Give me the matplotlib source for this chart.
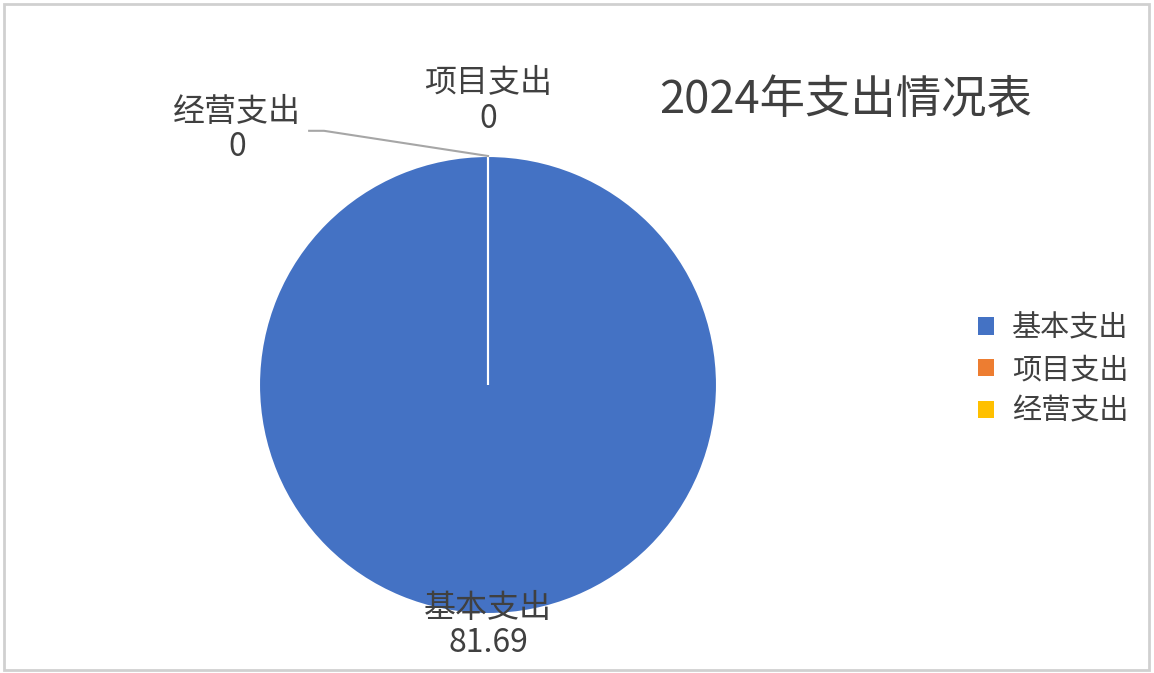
import numpy as np
import matplotlib.pyplot as plt
from matplotlib.patches import Patch, Rectangle

plt.rcParams['font.family'] = ['Noto Sans CJK SC', 'DejaVu Sans']

# data
categories = ["基本支出", "项目支出", "经营支出"]
values = [81.69, 0, 0]
value_labels = ["81.69", "0", "0"]
colors = ["#4472C4", "#ED7D31", "#FFC000"]
title = "2024年支出情况表"

text_color = "#404040"
W, H = 1154, 673

fig = plt.figure(figsize=(W / 100, H / 100), dpi=100)

# pie axes: center (488, 385) px, radius 229 px
cx, cy, r = 488, 385, 229
ax = fig.add_axes([(cx - r) / W, (H - cy - r) / H, 2 * r / W, 2 * r / H])
wedges, _ = ax.pie(values, colors=colors, startangle=90, counterclock=False,
                   radius=1, wedgeprops=dict(edgecolor="white", linewidth=1.5))
ax.set_xlim(-1, 1)
ax.set_ylim(-1, 1)
ax.set_aspect("equal")
ax.axis("off")

# data labels (positions in pie radius units)
label_pos = [(0.0, -1.05), (0.0, 1.24), (-1.096, 1.115)]
for name, val, (lx, ly) in zip(categories, value_labels, label_pos):
    ax.text(lx, ly, f"{name}\n{val}", ha="center", va="center", fontsize=23,
            color=text_color, linespacing=1.13, clip_on=False)

# leader line for 经营支出 -> top point of its (zero) wedge
w = wedges[2]
ang = np.deg2rad(w.theta1)
ex, ey = w.r * np.cos(ang), w.r * np.sin(ang)
lx, ly = label_pos[2]
ax.plot([lx + 0.315, lx + 0.38, ex], [ly - 0.005, ly - 0.005, ey],
        color="#a6a6a6", linewidth=1.5, clip_on=False)

# title
fig.text(846 / W, 1 - 100 / H, title, ha="center", va="center",
         fontsize=32.7, color=text_color)

# legend
handles = [Patch(facecolor=c, edgecolor="none") for c in colors]
fig.legend(handles, categories, loc="center left",
           bbox_to_anchor=(952 / W, 1 - 370 / H), frameon=False,
           fontsize=21, labelcolor=text_color, handlelength=0.55,
           handleheight=0.55, handletextpad=0.6, labelspacing=0.4)

# outer border
fig.patches.append(Rectangle((4 / W, 3 / H), (W - 9) / W, (H - 7) / H,
                             transform=fig.transFigure, fill=False,
                             edgecolor="#d0d0d0", linewidth=2))

fig.savefig("out.png", dpi=100)
